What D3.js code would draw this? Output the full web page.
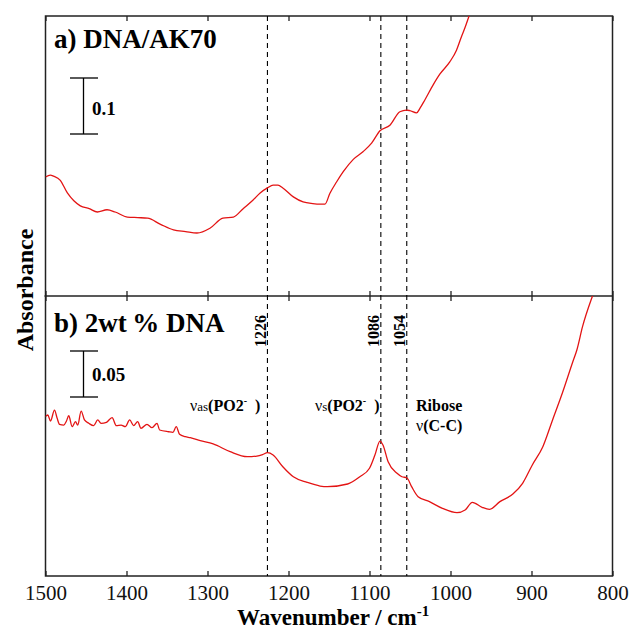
<!DOCTYPE html>
<html>
<head>
<meta charset="utf-8">
<script src="https://cdn.jsdelivr.net/npm/d3@7"></script>
<style>
  body { margin: 0; background: #fff; }
</style>
</head>
<body>
<script>
'use strict';

// wavenumber ticks along the bottom
const xTicks = [1500, 1400, 1300, 1200, 1100, 1000, 900, 800];

// band positions marked with dashed lines
const peakLines = [1226, 1086, 1054];

// a) DNA/AK70 spectrum (read off the picture)
const waveA = [1500, 1494, 1490, 1482, 1473, 1465, 1457, 1446, 1436, 1424, 1414, 1399,
  1386, 1374, 1358, 1342, 1327, 1313, 1297, 1281, 1268, 1256, 1244, 1235, 1226, 1219,
  1213, 1207, 1194, 1182, 1170, 1161, 1155, 1149, 1140.5, 1132.4, 1120, 1107.7, 1097.4,
  1087.1, 1074.8, 1062.5, 1054.2, 1050.2, 1041.9, 1037.8, 1031.7, 1021.4, 1013.2,
  1000.9, 992.6, 986.5, 982.4, 977.1, 965];
const absA = [0.2125, 0.216, 0.214, 0.207, 0.184, 0.170, 0.161, 0.156, 0.150, 0.154, 0.150, 0.141,
  0.140, 0.139, 0.128, 0.118, 0.115, 0.1125, 0.121, 0.139, 0.141, 0.156, 0.171, 0.184, 0.193, 0.198,
  0.198, 0.193, 0.177, 0.168, 0.165, 0.164, 0.164, 0.183, 0.204, 0.222, 0.244, 0.258, 0.273,
  0.295, 0.305, 0.329, 0.332, 0.331, 0.327, 0.335, 0.350, 0.377, 0.396,
  0.418, 0.439, 0.463, 0.478, 0.500, 0.55];

// b) 2wt% DNA spectrum (read off the picture)
const waveB = [1500, 1497.2, 1493.8, 1488.9, 1485.6, 1482.7, 1477.4, 1474.1, 1471.3, 1467.1,
  1463, 1460.2, 1456, 1451.9, 1446.6, 1440.5, 1435.5, 1431.4, 1424.8, 1417.8, 1412.5,
  1406.7, 1401.4, 1396.1, 1391.2, 1386.2, 1382.1, 1374.7, 1368.5, 1362.3, 1359.1, 1348,
  1342.6, 1338.6, 1334.5, 1327.5, 1321.3, 1309, 1293, 1272, 1251, 1239, 1232, 1226, 1219,
  1207, 1194, 1177, 1161, 1152, 1127, 1112, 1100, 1093.3, 1087.1, 1083.4, 1077, 1066,
  1060, 1054, 1048, 1040, 1026, 1010, 992, 982, 973, 961, 952, 939, 923, 911, 899, 886,
  874, 862, 849, 844, 837, 825, 818];
const absB = [0.1732, 0.1750, 0.1685, 0.1804, 0.1714, 0.1649, 0.1641, 0.1685, 0.1742, 0.1623,
  0.1677, 0.1641, 0.1793, 0.1696, 0.1660, 0.1634, 0.1696, 0.1660, 0.1671, 0.1721, 0.1634,
  0.1641, 0.1623, 0.1696, 0.1634, 0.1677, 0.1605, 0.1649, 0.1612, 0.1660, 0.1587, 0.1568,
  0.1562, 0.1623, 0.1540, 0.1514, 0.1503, 0.1471, 0.1435, 0.1351, 0.1297, 0.1304, 0.1320, 0.1340, 0.1315,
  0.1188, 0.1079, 0.1018, 0.0978, 0.0971, 0.1000, 0.1079, 0.1171, 0.1315, 0.1467, 0.1424, 0.1242, 0.1116,
  0.1079, 0.1068, 0.0971, 0.0862, 0.0808, 0.0736, 0.0688, 0.0717, 0.0801, 0.0747, 0.0725, 0.0808, 0.0891, 0.1008, 0.1207, 0.1405,
  0.1696, 0.1986, 0.2329, 0.2457, 0.2710, 0.3036, 0.32];

(function() {

  let svgContainer = "";
  const serif = '"Liberation Serif", "Times New Roman", serif';
  const red = '#e31414';

  // frame of the two stacked panels
  const left = 45.5, right = 612.5, top = 16, mid = 296, bottom = 576;

  window.onload = function() {
    svgContainer = d3.select('body')
      .append('svg')
      .attr('width', 630)
      .attr('height', 631)
      .style('font-family', serif);

    let x = d3.scaleLinear().domain([1500, 800]).range([left, right]);
    let yA = d3.scaleLinear().domain([0, 0.5]).range([mid, top]);
    let yB = d3.scaleLinear().domain([0, 0.3]).range([bottom, mid + 4]);

    drawAxes(x);
    drawPeakLines(x);
    drawSpectrum(x, yA, waveA, absA, 'clipA', top, mid);
    drawSpectrum(x, yB, waveB, absB, 'clipB', mid, bottom);
    drawScaleBar(yA, 78, '0.1', 0.1, 115);
    drawScaleBar(yB, 351, '0.05', 0.05, 381);
    makeLabels(x);
  }

  // frame, inner ticks and bottom tick labels
  function drawAxes(x) {
    svgContainer.append('rect')
      .attr('x', left).attr('y', top)
      .attr('width', right - left).attr('height', bottom - top)
      .attr('fill', 'none')
      .attr('stroke', '#222')
      .attr('stroke-width', 1.5);

    svgContainer.append('line')
      .attr('x1', left - 1).attr('x2', right)
      .attr('y1', mid).attr('y2', mid)
      .attr('stroke', '#222')
      .attr('stroke-width', 1.5);

    // ticks pointing into each panel
    let tickRows = [[top, d3.axisTop], [mid, d3.axisBottom], [mid, d3.axisTop]];
    tickRows.forEach(function(r) {
      let g = svgContainer.append('g')
        .attr('transform', 'translate(0,' + r[0] + ')')
        .call(r[1](x).tickValues(xTicks).tickSize(-5).tickFormat(''));
      g.select('.domain').remove();
      g.selectAll('line').attr('stroke', '#222').attr('stroke-width', 1.3);
    });

    let xAxis = d3.axisBottom(x)
      .tickValues(xTicks)
      .tickSize(-5)
      .tickPadding(9)
      .tickFormat(d3.format('d'));
    let gx = svgContainer.append('g')
      .attr('transform', 'translate(0,' + bottom + ')')
      .call(xAxis);
    gx.select('.domain').remove();
    gx.selectAll('line').attr('stroke', '#222').attr('stroke-width', 1.3);
    gx.selectAll('text')
      .attr('fill', '#111')
      .style('font-family', serif)
      .style('font-size', '21px');
  }

  // dashed lines through both panels
  function drawPeakLines(x) {
    svgContainer.selectAll('.peak')
      .data(peakLines)
      .enter()
      .append('line')
        .attr('class', 'peak')
        .attr('x1', (d) => x(d)).attr('x2', (d) => x(d))
        .attr('y1', top).attr('y2', bottom)
        .attr('stroke', '#000')
        .attr('stroke-width', 1.1)
        .attr('stroke-dasharray', '5,4');
  }

  function drawSpectrum(x, y, waves, vals, id, y0, y1) {
    svgContainer.append('clipPath')
      .attr('id', id)
      .append('rect')
        .attr('x', left).attr('y', y0)
        .attr('width', right - left).attr('height', y1 - y0);

    let line = d3.line()
      .curve(d3.curveMonotoneX)
      .x((d) => x(d[0]))
      .y((d) => y(d[1]));

    svgContainer.append('path')
      .datum(d3.zip(waves, vals))
      .attr('clip-path', 'url(#' + id + ')')
      .attr('d', line)
      .attr('fill', 'none')
      .attr('stroke', red)
      .attr('stroke-width', 1.3)
      .attr('stroke-linejoin', 'round');
  }

  // absorbance scale bar with end caps
  function drawScaleBar(y, yTop, label, size, labelY) {
    let len = y(0) - y(size);
    let g = svgContainer.append('g').attr('stroke', '#000').attr('stroke-width', 1.3);
    g.append('line').attr('x1', 83.5).attr('x2', 83.5).attr('y1', yTop).attr('y2', yTop + len);
    g.append('line').attr('x1', 70).attr('x2', 98).attr('y1', yTop).attr('y2', yTop);
    g.append('line').attr('x1', 70).attr('x2', 98).attr('y1', yTop + len).attr('y2', yTop + len);

    svgContainer.append('text')
      .attr('x', 92)
      .attr('y', labelY)
      .style('font-size', '19px')
      .style('font-weight', 'bold')
      .text(label);
  }

  // titles, panel names and band labels
  function makeLabels(x) {
    svgContainer.append('text')
      .attr('x', 54).attr('y', 48)
      .style('font-size', '27px')
      .style('font-weight', 'bold')
      .text('a) DNA/AK70');

    svgContainer.append('text')
      .attr('x', 54).attr('y', 332)
      .style('font-size', '27px')
      .style('font-weight', 'bold')
      .text('b) 2wt\u2009% DNA');

    svgContainer.append('text')
      .attr('transform', 'translate(33, 290)rotate(-90)')
      .attr('text-anchor', 'middle')
      .style('font-size', '24px')
      .style('font-weight', 'bold')
      .text('Absorbance');

    let title = svgContainer.append('text')
      .attr('x', 237).attr('y', 625)
      .style('font-size', '23px')
      .style('font-weight', 'bold');
    title.append('tspan').text('Wavenumber / cm');
    title.append('tspan').attr('dy', -9).style('font-size', '15px').text('-1');

    // rotated band positions
    svgContainer.selectAll('.peakLabel')
      .data(peakLines)
      .enter()
      .append('text')
        .attr('class', 'peakLabel')
        .attr('transform', (d) => 'translate(' + (x(d) - 1.5) + ',331)rotate(-90)')
        .attr('text-anchor', 'middle')
        .style('font-size', '16px')
        .style('font-weight', 'bold')
        .text((d) => d);

    vibLabel(190, 411, 'as');
    vibLabel(315, 411, 's');

    svgContainer.append('text')
      .attr('x', 416).attr('y', 411)
      .style('font-size', '16px')
      .style('font-weight', 'bold')
      .text('Ribose');

    let cc = svgContainer.append('text')
      .attr('x', 416).attr('y', 431)
      .style('font-size', '16px');
    cc.append('tspan').text('\u03bd');
    cc.append('tspan').style('font-weight', 'bold').text('(C-C)');
  }

  // label like "vas(PO2- )"
  function vibLabel(px, py, sub) {
    let t = svgContainer.append('text')
      .attr('x', px).attr('y', py)
      .style('font-size', '16px');
    t.append('tspan').text('\u03bd');
    t.append('tspan').style('font-size', '13px').text(sub);
    t.append('tspan').style('font-weight', 'bold').text('(PO2');
    t.append('tspan').attr('dy', -7).style('font-size', '10px').style('font-weight', 'bold').text('-');
    t.append('tspan').attr('dy', 7).style('font-weight', 'bold').text('\u2002)');
  }

})();
</script>
</body>
</html>
